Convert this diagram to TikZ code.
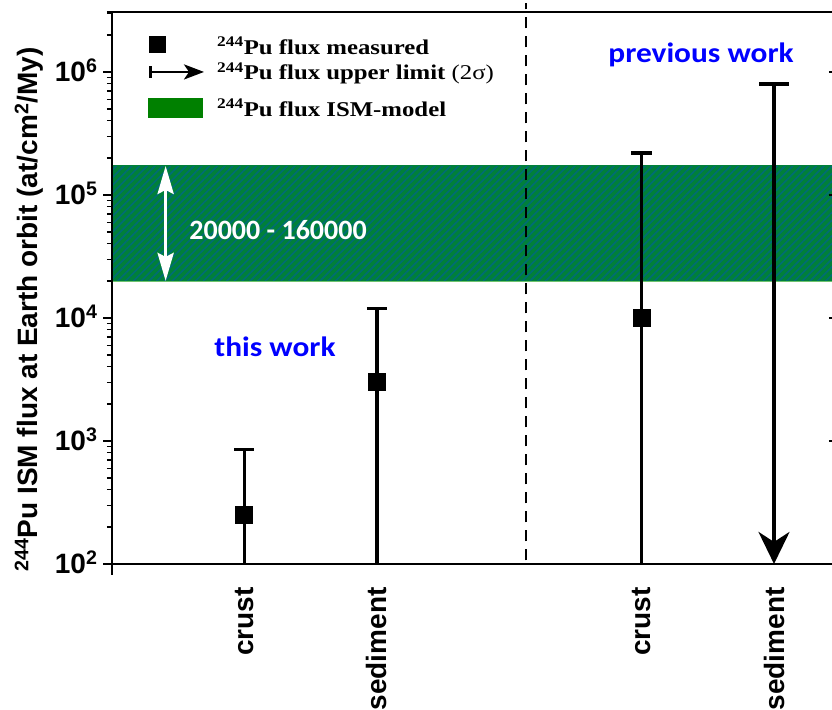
\documentclass[tikz,border=0pt]{standalone}
\usepackage{fontspec}
\usepackage{tikz}
\usetikzlibrary{arrows.meta,patterns.meta}

\newfontfamily\arialf{Liberation Sans}
\newfontfamily\calf{Carlito}
\newfontfamily\timesf{Liberation Serif}

\definecolor{bandgreen}{RGB}{0,128,58}
\definecolor{bandteal}{RGB}{0,108,118}
\definecolor{bandedge}{RGB}{110,195,110}
\definecolor{leggreen}{RGB}{0,128,0}

\begin{document}
\begin{tikzpicture}[x = 132.4pt, y = 123pt,
    font = \arialf\bfseries,
    axislbl/.style = {font = \arialf\bfseries\fontsize{28}{30}\selectfont},
    catlbl/.style = {axislbl, rotate = 90, anchor = east},
    leglbl/.style = {font = \timesf\bfseries\fontsize{21}{23}\selectfont, anchor = west, xscale = 1.18},
    worklbl/.style = {font = \calf\bfseries\fontsize{28}{30}\selectfont, text = blue, xscale = 1.12},
    datapt/.style = {fill = black, minimum size = 18pt, inner sep = 0pt},
    errbar/.style = {line width = 3.4pt},
    axisline/.style = {line width = 2pt}]

        \useasboundingbox (-0.846,-1.187) rectangle (5.438,4.585);

        % ISM-model band
        \fill[bandgreen] (0,2.301) rectangle (5.438,3.236);
        \fill[pattern = {Lines[angle = 45, distance = 5.5pt, line width = 1.6pt]}, pattern color = bandteal]
        (0,2.301) rectangle (5.438,3.236);
        \draw[bandgreen, line width = 1pt] (0,3.236) -- (5.438,3.236);
        \draw[bandedge, line width = 0.8pt] (0,2.301) -- (5.438,2.301);

        \coordinate (bandbot) at (0.405,2.301);
        \coordinate (bandtop) at (0.405,3.236);
        \draw[white, line width = 3.5pt,
        {Stealth[length = 28pt, width = 16pt, inset = 4pt]}-{Stealth[length = 28pt, width = 16pt, inset = 4pt]}]
        (bandbot) -- (bandtop);
        \node[font = \calf\bfseries\fontsize{28}{30}\selectfont, text = white] (range) at (1.254,2.715) {20000 - 160000};

        % separator
        \coordinate (sepbot) at (3.123,0.03);
        \coordinate (septop) at (3.123,4.56);
        \draw[line width = 2pt, dash pattern = on 11pt off 8pt] (sepbot) -- (septop);

        % axes
        \coordinate (orig) at (0,0);
        \coordinate (ybot) at (0,-0.089);
        \coordinate (ytop) at (0,4.488);
        \coordinate (xend) at (5.438,0);
        \coordinate (tleft) at (-0.038,4.488);
        \coordinate (tright) at (5.438,4.488);
        \draw[axisline] (ybot) -- (ytop);
        \draw[axisline] (orig) -- (xend);
        \draw[axisline] (tleft) -- (tright);

        \foreach \e in {0,...,4}{
            \draw[line width = 1.5pt] (-0.068,\e) -- (0,\e);
            \foreach \m in {2,...,9}{
                \pgfmathsetmacro{\ym}{\e+log10(\m)}
                \pgfmathparse{\ym<4.48 ? 1 : 0}
                \ifnum\pgfmathresult=1
                    \draw[line width = 1.2pt] (-0.038,\ym) -- (0,\ym);
                \fi
            }
        }
        \foreach \e in {1,...,4}
            \draw[line width = 1.5pt] (5.415,\e) -- (5.438,\e);

        \foreach \e in {2,...,6}
            \node[axislbl, anchor = base east] (tick\e) at ([xshift = -11pt, yshift = -10pt] 0,\e-2)
            {10\textsuperscript{\e}};

        \node[axislbl, rotate = 90] (ylabel) at (-0.627,2.069)
        {\textsuperscript{244}Pu ISM flux at Earth orbit (at/cm\textsuperscript{2}/My)};

        \node[catlbl] (cat1) at ([yshift = -20pt] 1,0) {crust};
        \node[catlbl] (cat2) at ([yshift = -20pt] 2,0) {sediment};
        \node[catlbl] (cat4) at ([yshift = -20pt] 4,0) {crust};
        \node[catlbl] (cat5) at ([yshift = -20pt] 5,0) {sediment};

        % data (decades above 10^2)
        \coordinate (crustAtop) at (1,{log10(8.5)});
        \coordinate (sedAtop) at (2,{log10(1.2)+2});
        \coordinate (crustBtop) at (4,{log10(2.2)+3});
        \coordinate (sedBtop) at (5,{log10(8)+3});
        \coordinate (crustAbot) at (1,0);
        \coordinate (sedAbot) at (2,0);
        \coordinate (crustBbot) at (4,0);
        \coordinate (sedBbot) at (5,0);

        \draw[errbar] (crustAbot) -- (crustAtop);
        \draw[errbar] ([xshift = -10pt]crustAtop) -- ([xshift = 10pt]crustAtop);
        \draw[errbar] (sedAbot) -- (sedAtop);
        \draw[errbar] ([xshift = -10pt]sedAtop) -- ([xshift = 10pt]sedAtop);
        \draw[errbar] (crustBbot) -- (crustBtop);
        \draw[errbar] ([xshift = -10.5pt]crustBtop) -- ([xshift = 10.5pt]crustBtop);
        \draw[errbar, -{Stealth[length = 32pt, width = 31pt, inset = 10pt]}] (sedBtop) -- (sedBbot);
        \draw[errbar] ([xshift = -15pt]sedBtop) -- ([xshift = 15pt]sedBtop);

        \node[datapt] (crustA) at (1,{log10(2.5)}) {};
        \node[datapt] (sedA) at (2,{log10(3)+1}) {};
        \node[datapt] (crustB) at (4,2) {};

        \node[worklbl] (thiswork) at (1.231,1.764) {this work};
        \node[worklbl] (prevwork) at (4.449,4.138) {previous work};

        % legend
        \node[datapt, minimum size = 17pt] (legsq) at (0.347,4.220) {};
        \coordinate (legarrA) at (0.279,4.0);
        \coordinate (legarrB) at (0.695,4.0);
        \draw[line width = 2.8pt, {Bar[width = 12pt]}-{Stealth[length = 20pt, width = 15pt, inset = 5pt]}]
        (legarrA) -- (legarrB);
        \fill[leggreen] (0.272,3.626) rectangle (0.687,3.789);

        \node[leglbl] (leg1) at (0.763,4.211) {\textsuperscript{244}Pu flux measured};
        \node[leglbl] (leg2) at (0.763,3.99) {\textsuperscript{244}Pu flux upper limit {\mdseries(2σ)}};
        \node[leglbl] (leg3) at (0.763,3.707) {\textsuperscript{244}Pu flux ISM-model};
    \end{tikzpicture}
\end{document}
